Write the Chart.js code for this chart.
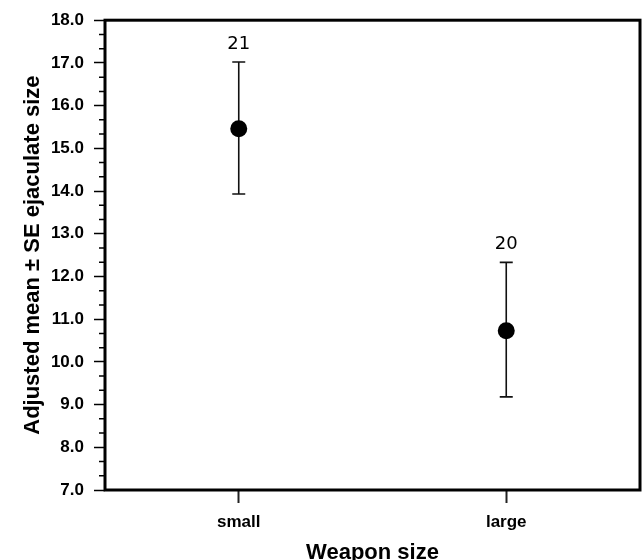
<!DOCTYPE html>
<html>
<head>
<meta charset="utf-8">
<script src="https://cdn.jsdelivr.net/npm/chart.js@4.4.1/dist/chart.umd.min.js"></script>
<style>
  html, body { margin: 0; padding: 0; background: #fff; }
  #wrap { width: 642px; height: 560px; }
</style>
</head>
<body>
<div id="wrap"><canvas id="c" width="642" height="560"></canvas></div>
<script>
const categories  = ['small', 'large'];
const means       = [15.46, 10.73];
const seLower     = [13.93, 9.18];
const seUpper     = [17.02, 12.33];
const sampleSizes = [21, 20];

// error bars + n labels, drawn under the points
const errorBars = {
  id: 'errorBars',
  beforeDatasetsDraw(chart) {
    const { ctx, scales: { x, y } } = chart;
    ctx.save();
    ctx.strokeStyle = '#111';
    ctx.lineWidth = 1.6;
    categories.forEach((cat, i) => {
      const px = x.getPixelForValue(i);
      const yt = y.getPixelForValue(seUpper[i]);
      const yb = y.getPixelForValue(seLower[i]);
      ctx.beginPath();
      ctx.moveTo(px, yt); ctx.lineTo(px, yb);
      ctx.moveTo(px - 6.5, yt); ctx.lineTo(px + 6.5, yt);
      ctx.moveTo(px - 6.5, yb); ctx.lineTo(px + 6.5, yb);
      ctx.stroke();
      ctx.fillStyle = '#000';
      ctx.font = '18px "DejaVu Sans"';
      ctx.textAlign = 'center';
      ctx.textBaseline = 'middle';
      ctx.fillText(String(sampleSizes[i]), px, yt - 18);
    });
    ctx.restore();
  }
};

// frame + minor ticks
const frame = {
  id: 'frame',
  afterDraw(chart) {
    const { ctx, chartArea: a, scales: { y } } = chart;
    ctx.save();
    ctx.strokeStyle = '#000';
    ctx.lineWidth = 1.5;
    const t = y.ticks.map(k => k.value);
    ctx.beginPath();
    for (let i = 0; i < t.length - 1; i++) {
      for (let j = 1; j < 3; j++) {
        const py = y.getPixelForValue(t[i] + j * (t[i + 1] - t[i]) / 3);
        ctx.moveTo(a.left - 6, py); ctx.lineTo(a.left, py);
      }
    }
    ctx.stroke();
    ctx.lineWidth = 3;
    ctx.strokeRect(a.left, a.top, a.right - a.left, a.bottom - a.top);
    ctx.restore();
  }
};

new Chart(document.getElementById('c'), {
  type: 'line',
  data: {
    labels: categories,
    datasets: [{
      data: means,
      showLine: false,
      pointRadius: 8.5,
      pointHoverRadius: 8.5,
      pointBackgroundColor: '#000',
      pointBorderColor: '#000',
      pointBorderWidth: 0
    }]
  },
  options: {
    responsive: false,
    animation: false,
    layout: { autoPadding: false, padding: { top: 19, right: 2, left: 0, bottom: 0 } },
    plugins: { legend: { display: false }, tooltip: { enabled: false } },
    scales: {
      x: {
        type: 'category',
        offset: true,
        afterFit(s) { s.height = 70; s.paddingLeft = 0; s.paddingRight = 0; },
        border: { display: false },
        grid: { display: true, drawOnChartArea: false, offset: false, tickLength: 13, tickWidth: 2, tickColor: '#222' },
        ticks: { color: '#000', padding: 9, font: { family: 'Liberation Sans', size: 17, weight: 'bold' } },
        title: {
          display: true, text: 'Weapon size', color: '#000',
          font: { family: 'Liberation Sans', size: 22, weight: 'bold' },
          padding: { top: 0, bottom: -6 }
        }
      },
      y: {
        min: 7, max: 18,
        afterFit(s) { s.width = 105; },
        border: { display: false },
        grid: { display: true, drawOnChartArea: false, tickLength: 11, tickWidth: 1.5, tickColor: '#000' },
        ticks: {
          stepSize: 1, color: '#000', padding: 10,
          font: { family: 'Liberation Sans', size: 17, weight: 'bold' },
          callback: v => v.toFixed(1)
        },
        title: {
          display: true, text: 'Adjusted mean ± SE ejaculate size', color: '#000',
          font: { family: 'Liberation Sans', size: 22, weight: 'bold' },
          padding: { top: 20, bottom: 0 }
        }
      }
    }
  },
  plugins: [errorBars, frame]
});
</script>
</body>
</html>
